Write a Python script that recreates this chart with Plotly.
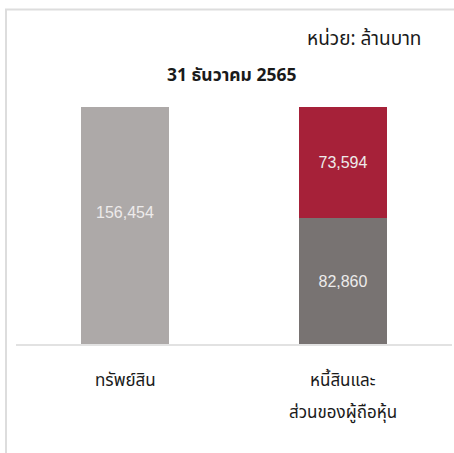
import plotly.graph_objects as go

# Statement of financial position, 31 Dec 2565 (million baht)
categories = ["ทรัพย์สิน", "หนี้สินและ"]
assets = [156454, None]
equity_part = [None, 82860]
liabilities = [None, 73594]
label_line2 = ["", "ส่วนของผู้ถือหุ้น"]

title_text = "31 ธันวาคม 2565"
unit_text = "หน่วย: ล้านบาท"

W, H = 454, 453
L, R, T, B = 16, 2, 107, 109
pw, ph = W - L - R, H - T - B


def px_x(p):
    return (p - L) / pw


def px_y(p):
    return (H - B - p) / ph


thai_font = "Tahoma, 'Noto Sans Thai', 'Leelawadee UI', sans-serif"
num_font = dict(family="Liberation Sans, Arial, sans-serif", size=16, color="#EDEBEB")
bar_kw = dict(width=0.404, marker_line_width=0, hoverinfo="skip")

fig = go.Figure()
# total assets bar; its value label sits a little above the bar's middle
fig.add_bar(x=categories, y=assets, marker_color="#ADA9A8", **bar_kw)
fig.add_bar(x=categories, y=equity_part, marker_color="#787372",
            texttemplate="%{y:,}", textposition="inside", insidetextanchor="middle",
            textfont=num_font, **bar_kw)
fig.add_bar(x=categories, y=liabilities, marker_color="#A62139",
            texttemplate="%{y:,}", textposition="inside", insidetextanchor="middle",
            textfont=num_font, **bar_kw)

total = sum(v for v in assets if v)

fig.update_layout(
    width=W, height=H, barmode="stack", showlegend=False,
    margin=dict(l=L, r=R, t=T, b=B, pad=0),
    paper_bgcolor="white", plot_bgcolor="white",
    uniformtext=dict(mode="show", minsize=10),
    xaxis=dict(range=[-0.5, 1.5], showticklabels=False, showgrid=False,
               zeroline=False, showline=True, linecolor="#E2E2E2", linewidth=2,
               fixedrange=True),
    yaxis=dict(range=[0, total], visible=False, fixedrange=True),
    font=dict(family=thai_font, color="#1A1A1A"),
)

for cat, v in zip(categories, assets):
    if v:
        fig.add_annotation(text=f"{v:,}", x=cat, y=v * 0.553, xref="x", yref="y",
                           xanchor="center", yanchor="middle", showarrow=False,
                           font=num_font)

# frame lines along the top and left edges
border = dict(color="#DDDDDD", width=2)
fig.add_shape(type="line", xref="paper", yref="paper", x0=px_x(5), x1=px_x(455),
              y0=px_y(9.5), y1=px_y(9.5), line=border)
fig.add_shape(type="line", xref="paper", yref="paper", x0=px_x(6), x1=px_x(6),
              y0=px_y(9), y1=px_y(454), line=border)

fig.add_annotation(text=unit_text, xref="paper", yref="paper", x=px_x(423), y=px_y(40),
                   xanchor="right", yanchor="middle", showarrow=False,
                   font=dict(size=19, color="#1A1A1A"))
fig.add_annotation(text="<b>" + title_text + "</b>", xref="paper", yref="paper",
                   x=px_x(231), y=px_y(75), xanchor="center", yanchor="middle",
                   showarrow=False, font=dict(size=17.5, color="#1A1A1A"))

for cat, line2 in zip(categories, label_line2):
    fig.add_annotation(text=cat, x=cat, xref="x", yref="paper", y=px_y(381),
                       xanchor="center", yanchor="middle", showarrow=False,
                       font=dict(size=17, color="#1A1A1A"))
    if line2:
        fig.add_annotation(text=line2, x=cat, xref="x", yref="paper", y=px_y(413),
                           xanchor="center", yanchor="middle", showarrow=False,
                           font=dict(size=17, color="#1A1A1A"))

fig.write_html("out.html")
